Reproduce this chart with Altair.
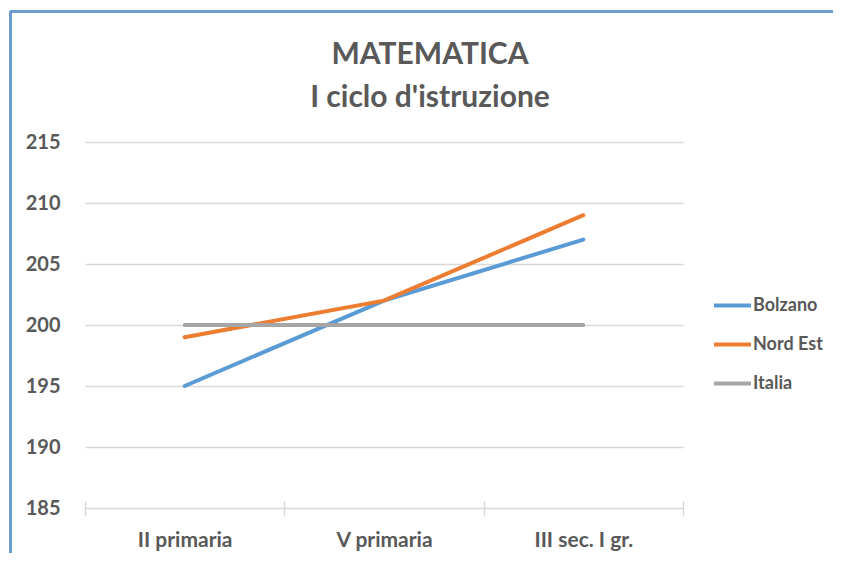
import altair as alt
import pandas as pd

categories = ["II primaria", "V primaria", "III sec. I gr."]
series_names = ["Bolzano", "Nord Est", "Italia"]
bolzano = [195, 202, 207]
nord_est = [199, 202, 209]
italia = [200, 200, 200]
colors = ["#5B9BD5", "#ED7D31", "#A5A5A5"]
y_ticks = [185, 190, 195, 200, 205, 210, 215]

rows = []
for name, vals in zip(series_names, [bolzano, nord_est, italia]):
    for i, (c, v) in enumerate(zip(categories, vals)):
        rows.append({"fase": c, "serie": name, "valore": v, "ord": i})
df = pd.DataFrame(rows)

FONT = "Lato"
TXT = "#595959"

lines = alt.Chart(df).mark_line(strokeWidth=4, strokeCap="round").encode(
    x=alt.X("fase:N", sort=categories,
            scale=alt.Scale(type="band", paddingInner=0, paddingOuter=0),
            axis=alt.Axis(title=None, labelAngle=0, tickBand="extent", domain=False,
                          offset=-7, tickSize=15, tickColor="#d9d9d9", tickWidth=1.5,
                          labelPadding=13, labelFont=FONT, labelFontSize=21,
                          labelFontWeight="bold", labelColor=TXT, grid=False)),
    y=alt.Y("valore:Q",
            scale=alt.Scale(domain=[185, 215], nice=False, zero=False),
            axis=alt.Axis(title=None, values=y_ticks, domain=False, ticks=False,
                          labelPadding=25, labelFont=FONT, labelFontSize=20,
                          labelFontWeight="bold", labelColor=TXT,
                          gridColor="#d9d9d9", gridWidth=1.5)),
    color=alt.Color("serie:N",
                    scale=alt.Scale(domain=series_names, range=colors),
                    legend=alt.Legend(title=None, orient="none", legendX=627, legendY=143,
                                      symbolType="stroke", symbolSize=1369,
                                      symbolStrokeWidth=4, rowPadding=9,
                                      labelFont=FONT, labelFontSize=18,
                                      labelFontWeight="bold", labelColor=TXT,
                                      labelOffset=0)),
    detail="serie:N",
    order="ord:Q",
)

border_top = alt.Chart(df).mark_rule(color="#6C9BD2", strokeWidth=2).encode(
    x=alt.value(-74.5), x2=alt.value(760), y=alt.value(-130.5)
)
border_left = alt.Chart(df).mark_rule(color="#6C9BD2", strokeWidth=2).encode(
    x=alt.value(-74.5), y=alt.value(-130.5), y2=alt.value(430)
)

chart = alt.layer(border_top, border_left, lines).properties(
    width=598,
    height=366,
    title=alt.TitleParams(
        text=["MATEMATICA", "I ciclo d'istruzione"],
        font=FONT, fontSize=30, fontWeight="bold", color=TXT,
        anchor="middle", frame="group", dx=46, offset=-102, lineHeight=43,
    ),
    autosize=alt.AutoSizeParams(type="none"),
    padding={"left": 77, "top": 134, "right": 150, "bottom": 45},
).configure_view(stroke="transparent")

chart.save("out.html", embed_options={"renderer": "svg", "actions": False})
